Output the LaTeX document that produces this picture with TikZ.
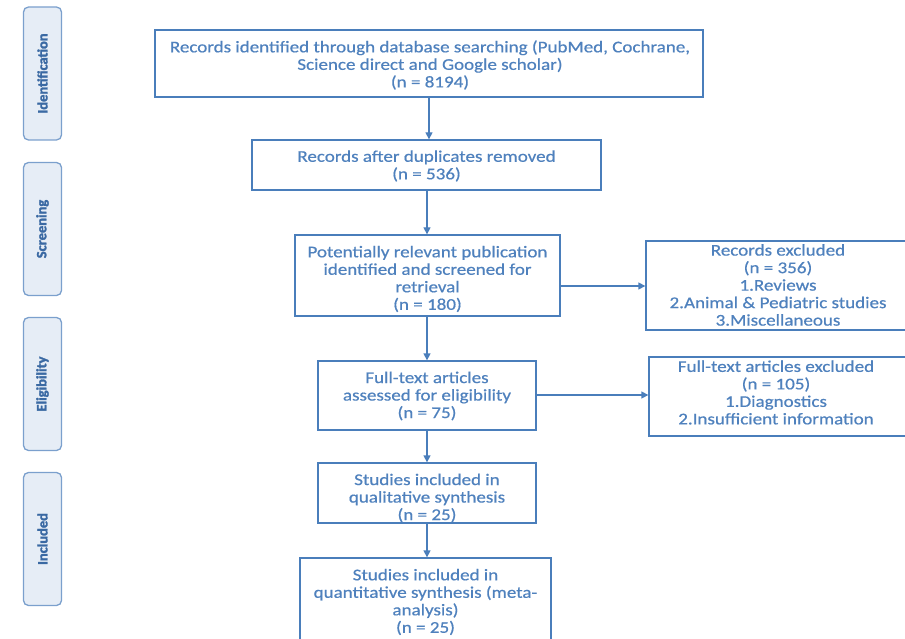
\documentclass[tikz,border=0pt]{standalone}
\usepackage{fontspec}
\setmainfont{Carlito}
\newfontfamily\widefont[FakeStretch=1.16,FakeBold=0.6]{Carlito}
\newfontfamily\sidefont[FakeStretch=1.02,FakeBold=2]{Carlito Bold}
\usetikzlibrary{arrows.meta}
\definecolor{bline}{HTML}{4A7EBB}
\definecolor{btext}{HTML}{4F81BD}
\definecolor{sfill}{HTML}{E6EDF6}
\definecolor{sline}{HTML}{7BA0CD}
\definecolor{stext}{HTML}{3A69A3}
\tikzset{
  box/.style={draw=bline, line width=1.3pt, rectangle, inner sep=0pt},
  txt/.style={text=btext, align=center, font=\widefont\fontsize{16.4}{17.5}\selectfont, inner sep=0pt},
  side/.style={draw=sline, fill=sfill, line width=1.3pt, rounded corners=5pt, minimum width=38pt, minimum height=133pt, inner sep=0pt},
  sidetxt/.style={text=stext, rotate=90, font=\sidefont\fontsize{14.2}{15}\selectfont, inner sep=0pt},
  arr/.style={draw=bline, line width=1.3pt, -{Triangle[length=7pt,width=7pt]}}
}
\begin{document}
\begin{tikzpicture}[x=1pt,y=-1pt]
\useasboundingbox (0,0) rectangle (905,639);
\clip (0,0) rectangle (905,639);
% side labels
\node[side] (s1) at (42.5,73.5) {};
\node[sidetxt] at (s1) {Identification};
\node[side] (s2) at (42.5,229) {};
\node[sidetxt] at (s2) {Screening};
\node[side] (s3) at (42.5,384) {};
\node[sidetxt] at (s3) {Eligibility};
\node[side] (s4) at (42.5,539) {};
\node[sidetxt] at (s4) {Included};
% boxes
\node[box, minimum width=548pt, minimum height=67pt] (b1) at (429,63.5) {};
\node[txt] at (430,65) {Records identified through database searching (PubMed, Cochrane,\\Science direct and Google scholar)\\(n = 8194)};
\node[box, minimum width=349pt, minimum height=50pt] (b2) at (426.5,165) {};
\node[txt] at (426.5,166) {Records after duplicates removed\\(n = 536)};
\node[box, minimum width=265pt, minimum height=81pt] (b3) at (427.5,275.5) {};
\node[txt] at (427.5,279) {Potentially relevant publication\\identified and screened for\\retrieval\\(n = 180)};
\node[box, minimum width=261pt, minimum height=89pt] (b4) at (776.5,285.5) {};
\node[txt] at (778,285) {Records excluded\\(n = 356)\\1.Reviews\\2.Animal \& Pediatric studies\\3.Miscellaneous};
\node[box, minimum width=258pt, minimum height=79pt] (b6) at (778,396.5) {};
\node[box, minimum width=218pt, minimum height=69pt] (b5) at (427,395.5) {};
\node[txt] at (427,396) {Full-text articles\\assessed for eligibility\\(n = 75)};
\node[txt] at (776,392.5) {Full-text articles excluded\\(n = 105)\\1.Diagnostics\\2.Insufficient information};
\node[box, minimum width=218pt, minimum height=60pt] (b7) at (427,493) {};
\node[txt] at (427,498) {Studies included in\\qualitative synthesis\\(n = 25)};
\node[box, minimum width=251pt, minimum height=88pt] (b8) at (425.5,602) {};
\node[txt] at (425.5,602) {Studies included in\\quantitative synthesis (meta-\\analysis)\\(n = 25)};
% arrows
\draw[arr] (b1.south -| 429,0) -- (b2.north -| 429,0);
\draw[arr] (b2.south -| 427,0) -- (b3.north -| 427,0);
\draw[arr] (b3.south -| 427,0) -- (b5.north -| 427,0);
\draw[arr] (b5.south) -- (b7.north);
\draw[arr] (b7.south) -- (b8.north -| b7.south);
\draw[arr] (b3.east |- 0,286) -- (b4.west |- 0,286);
\draw[arr] (b5.east |- 0,395) -- (b6.west |- 0,395);
\end{tikzpicture}
\end{document}
